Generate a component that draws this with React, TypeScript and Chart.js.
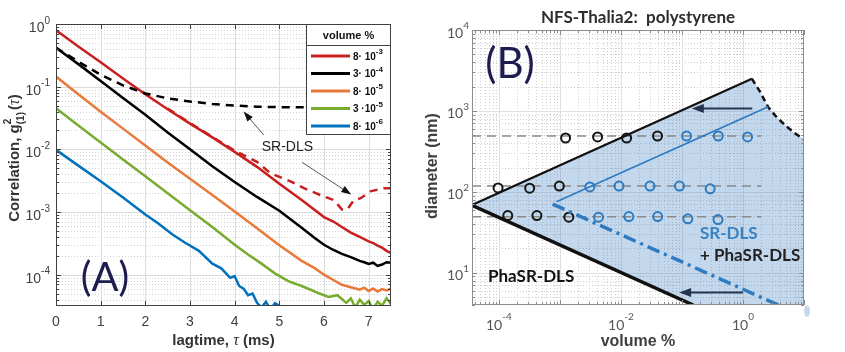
import React, { useEffect, useRef } from "react";
import { Chart, registerables } from "chart.js";
Chart.register(...registerables);

// ---------------- Panel A data (lagtime in ms, correlation) ----------------
const lagRed = [0, 0.5, 1, 1.5, 2, 2.5, 3, 3.5, 4, 4.5, 5, 5.5, 6, 6.2, 6.4, 6.6, 6.8, 7.0, 7.1, 7.2, 7.3, 7.4, 7.5];
const gRed = [0.794, 0.437, 0.245, 0.135, 0.0759, 0.0437, 0.0257, 0.0155, 0.00912, 0.00525, 0.00282, 0.00155, 8.3e-4, 7.1e-4, 5.75e-4, 4.7e-4, 4.0e-4, 3.4e-4, 3.2e-4, 2.9e-4, 2.7e-4, 2.4e-4, 2.2e-4];

const lagRedSR = [2.5, 3, 3.5, 4, 4.5, 4.8, 5.25, 5.55, 5.92, 6.22, 6.4, 6.52, 6.67, 6.82, 7.04, 7.34, 7.5];
const gRedSR = [0.0447, 0.0263, 0.0158, 0.00955, 0.0063, 0.00417, 0.00309, 0.0024, 0.00186, 0.00155, 0.0011, 0.0011, 0.00155, 0.00166, 0.00214, 0.0024, 0.0024];

const lagBlack = [0, 0.5, 1, 1.5, 2, 2.5, 3, 3.5, 4, 4.5, 5, 5.5, 5.8, 6.0, 6.2, 6.4, 6.6, 6.8, 6.9, 7.0, 7.1, 7.2, 7.3, 7.4, 7.5];
const gBlack = [0.417, 0.229, 0.123, 0.066, 0.0355, 0.0186, 0.01, 0.00537, 0.00302, 0.00174, 0.00105, 5.6e-4, 3.8e-4, 3.0e-4, 2.5e-4, 2.14e-4, 1.9e-4, 1.66e-4, 1.58e-4, 1.48e-4, 1.55e-4, 1.38e-4, 1.45e-4, 1.58e-4, 1.55e-4];

const lagBlackSR = [0, 0.5, 1, 1.5, 2, 2.5, 3, 3.5, 4, 4.5, 5, 5.6];
const gBlackSR = [0.417, 0.251, 0.155, 0.105, 0.078, 0.065, 0.058, 0.053, 0.05, 0.048, 0.047, 0.047];

const lagOrange = [0, 0.5, 1, 1.5, 2, 2.5, 3, 3.5, 4, 4.5, 5, 5.5, 5.8, 6.0, 6.2, 6.4, 6.6, 6.8, 6.9, 7.0, 7.1, 7.2, 7.3, 7.4, 7.5];
const gOrange = [0.145, 0.0759, 0.0398, 0.0214, 0.0115, 0.00617, 0.00339, 0.00186, 0.00102, 5.5e-4, 2.95e-4, 1.66e-4, 1.26e-4, 1.0e-4, 8.3e-5, 6.9e-5, 6.3e-5, 5.75e-5, 6.2e-5, 5.5e-5, 6.0e-5, 5.4e-5, 5.9e-5, 5.6e-5, 6.0e-5];

const lagGreen = [0, 0.5, 1, 1.5, 2, 2.5, 3, 3.5, 4, 4.3, 4.6, 4.9, 5.2, 5.5, 5.7, 5.9, 6.1, 6.3, 6.5, 6.6, 6.7, 6.8, 6.9, 7.0, 7.1, 7.2, 7.3, 7.4, 7.5];
const gGreen = [0.0452, 0.024, 0.0129, 0.0069, 0.00372, 0.002, 0.00107, 5.75e-4, 3.0e-4, 2.1e-4, 1.5e-4, 1.05e-4, 7.9e-5, 6.6e-5, 5.75e-5, 5.0e-5, 4.4e-5, 4.7e-5, 3.55e-5, 4.2e-5, 3.0e-5, 4.0e-5, 3.3e-5, 3.8e-5, 2.8e-5, 3.7e-5, 3.2e-5, 4.2e-5, 3.4e-5];

const lagBlue = [0, 0.5, 1, 1.5, 2, 2.3, 2.6, 2.9, 3.2, 3.5, 3.7, 3.9, 4.0, 4.1, 4.2, 4.3, 4.4, 4.5, 4.6, 4.7, 4.8, 4.9, 5.0, 5.1];
const gBlue = [0.0098, 0.0055, 0.0031, 0.0017, 9.1e-4, 6.5e-4, 4.4e-4, 3.2e-4, 2.4e-4, 1.5e-4, 1.26e-4, 8.9e-5, 9.5e-5, 6.6e-5, 6.0e-5, 4.7e-5, 5.0e-5, 3.55e-5, 3.0e-5, 3.7e-5, 2.75e-5, 3.5e-5, 3.2e-5, 2.5e-5];

const legendLabels = ["8· 10^-3", "3· 10^-4", "8· 10^-5", "3 ·10^-5", "8· 10^-6"];
const seriesColors = ["#c9201f", "#000000", "#e8793a", "#77ac30", "#0072bd"];
const lagTicks = [0, 1, 2, 3, 4, 5, 6, 7];
const corrExps = [0, -1, -2, -3, -4];

// ---------------- Panel B data (volume %, diameter nm) ----------------
const volUpper = [3.63e-5, 1.4];
const diamUpper = [68.7, 2500];
const volLower = [3.63e-5, 0.153];
const diamLower = [68, 4];
const volSR = [8.8e-4, 2.6];
const diamSR = [75.5, 1127];
const volSRLow = [7.6e-4, 3.8];
const diamSRLow = [70.6, 4];
const volEdge = [1.4, 1.9, 2.6, 3.6, 5.2, 7.1, 10];
const diamEdge = [2500, 1730, 1110, 830, 640, 530, 445];
const volRegion = [3.63e-5, 1.4, 1.9, 2.6, 3.6, 5.2, 7.1, 10, 10, 0.153, 3.63e-5];
const diamRegion = [68.7, 2500, 1730, 1110, 830, 640, 530, 445, 4, 4, 68.7];
const refDiam = [490, 118, 49.2];
const refVol = [3.63e-5, 2.0];
const blackVol = [1.24e-3, 4.15e-3, 1.24e-2, 3.98e-2, 9.7e-5, 3.2e-4, 9.8e-4, 1.4e-4, 4.2e-4, 1.4e-3];
const blackDiam = [463, 477, 463, 490, 112, 111, 118, 51, 51, 48.6];
const blueVol = [0.119, 0.394, 1.19, 3.1e-3, 9.3e-3, 3.0e-2, 9.1e-2, 0.29, 4.3e-3, 1.35e-2, 4.0e-2, 0.125, 0.39];
const blueDiam = [490, 490, 477, 115, 118, 118, 118, 109, 48.6, 49.5, 49.5, 46.5, 45.5];
const volExps = [-4, -2, 0];
const diamExps = [1, 2, 3, 4];

const SANS = '"Liberation Sans", Arial, sans-serif';
const SERIF = '"Liberation Serif", "DejaVu Serif", serif';
const CAL = 'Lato, "Open Sans", sans-serif';

const xy = (xs: number[], ys: number[]) => xs.map((x, i) => ({ x, y: ys[i] }));

function powLabel(ctx: CanvasRenderingContext2D, exp: string, x: number, y: number, align: string, baseFont: string, supFont: string, color: string, rise: number) {
  ctx.font = baseFont;
  const wb = ctx.measureText("10").width;
  ctx.font = supFont;
  const we = ctx.measureText(exp).width;
  const total = wb + we;
  const x0 = align === "right" ? x - total : align === "center" ? x - total / 2 : x;
  ctx.fillStyle = color;
  ctx.textAlign = "left";
  ctx.textBaseline = "middle";
  ctx.font = baseFont;
  ctx.fillText("10", x0, y);
  ctx.font = supFont;
  ctx.fillText(exp, x0 + wb, y - rise);
}

function arrow(ctx: CanvasRenderingContext2D, x1: number, y1: number, x2: number, y2: number, lineColor: string, headColor: string, lw: number, hl: number, hw: number) {
  const a = Math.atan2(y2 - y1, x2 - x1);
  const c = Math.cos(a), s = Math.sin(a);
  ctx.setLineDash([]);
  ctx.strokeStyle = lineColor;
  ctx.lineWidth = lw;
  ctx.beginPath();
  ctx.moveTo(x1, y1);
  ctx.lineTo(x2 - c * hl * 0.8, y2 - s * hl * 0.8);
  ctx.stroke();
  ctx.fillStyle = headColor;
  ctx.beginPath();
  ctx.moveTo(x2, y2);
  ctx.lineTo(x2 - hl * c + (hw / 2) * s, y2 - hl * s - (hw / 2) * c);
  ctx.lineTo(x2 - hl * c - (hw / 2) * s, y2 - hl * s + (hw / 2) * c);
  ctx.closePath();
  ctx.fill();
}

function hLine(ctx: CanvasRenderingContext2D, x1: number, x2: number, y: number) {
  const yy = Math.round(y) + 0.5;
  ctx.beginPath(); ctx.moveTo(x1, yy); ctx.lineTo(x2, yy); ctx.stroke();
}
function vLine(ctx: CanvasRenderingContext2D, x: number, y1: number, y2: number) {
  const xx = Math.round(x) + 0.5;
  ctx.beginPath(); ctx.moveTo(xx, y1); ctx.lineTo(xx, y2); ctx.stroke();
}

// annotations for panel A (data coordinates)
const srArrowsA = [
  { from: [4.65, 0.017], to: [4.2, 0.04] },
  { from: [5.51, 0.0062], to: [6.61, 0.0019] },
];
const srTextA = { t: 5.18, g: 0.011 };

const pluginA = {
  id: "decorA",
  beforeDatasetsDraw(chart: any) {
    const { ctx, chartArea: ca, scales } = chart;
    const x = scales.x, y = scales.y;
    ctx.save();
    ctx.lineWidth = 1;
    ctx.strokeStyle = "#d2d2d2";
    ctx.setLineDash([1, 2]);
    for (let d = -5; d <= 0; d++) {
      for (let m = 2; m <= 9; m++) {
        const v = m * Math.pow(10, d);
        if (v <= y.min || v >= y.max) continue;
        hLine(ctx, ca.left, ca.right, y.getPixelForValue(v));
      }
    }
    ctx.setLineDash([]);
    ctx.strokeStyle = "#dcdcdc";
    lagTicks.forEach((t) => { if (t > 0) vLine(ctx, x.getPixelForValue(t), ca.top, ca.bottom); });
    corrExps.forEach((e) => { if (e < 0) hLine(ctx, ca.left, ca.right, y.getPixelForValue(Math.pow(10, e))); });
    ctx.restore();
  },
  afterDraw(chart: any) {
    const { ctx, chartArea: ca, scales } = chart;
    const x = scales.x, y = scales.y;
    ctx.save();
    ctx.setLineDash([]);
    ctx.strokeStyle = "#404040";
    ctx.lineWidth = 1;
    ctx.strokeRect(Math.round(ca.left) + 0.5, Math.round(ca.top) + 0.5, Math.round(ca.right - ca.left) - 1, Math.round(ca.bottom - ca.top) - 1);
    // ticks
    lagTicks.forEach((t) => {
      const px = x.getPixelForValue(t);
      vLine(ctx, px, ca.bottom - 5, ca.bottom);
      vLine(ctx, px, ca.top, ca.top + 5);
    });
    for (let d = -5; d <= 0; d++) {
      for (let m = 1; m <= 9; m++) {
        const v = m * Math.pow(10, d);
        if (v < y.min || v > y.max) continue;
        const py = y.getPixelForValue(v);
        const L = m === 1 ? 5 : 3;
        hLine(ctx, ca.left, ca.left + L, py);
        hLine(ctx, ca.right - L, ca.right, py);
      }
    }
    // tick labels
    ctx.fillStyle = "#404040";
    ctx.font = `14px ${SANS}`;
    ctx.textAlign = "center";
    ctx.textBaseline = "middle";
    lagTicks.forEach((t) => ctx.fillText(String(t), x.getPixelForValue(t), 322));
    corrExps.forEach((e) => {
      const py = y.getPixelForValue(Math.pow(10, e));
      powLabel(ctx, String(e), ca.left - 6, py + 4, "right", `14px ${SANS}`, `10px ${SANS}`, "#404040", 7);
    });
    // x title
    {
      const f1 = `bold 15px ${SANS}`, fi = `italic 16px ${SERIF}`;
      const parts: [string, string][] = [["lagtime, ", f1], ["τ", fi], [" (ms)", f1]];
      let tot = 0;
      parts.forEach(([s, f]) => { ctx.font = f; tot += ctx.measureText(s).width; });
      let cx = (ca.left + ca.right) / 2 - tot / 2;
      ctx.textAlign = "left";
      ctx.fillStyle = "#333333";
      parts.forEach(([s, f]) => { ctx.font = f; ctx.fillText(s, cx, 341); cx += ctx.measureText(s).width; });
    }
    // y title
    {
      ctx.save();
      ctx.translate(14, 158);
      ctx.rotate(-Math.PI / 2);
      const f1 = `bold 15px ${SANS}`, fs = `bold 10px ${SANS}`, fi = `italic 16px ${SERIF}`;
      ctx.font = f1; const w1 = ctx.measureText("Correlation, g").width;
      ctx.font = fs; const ws = Math.max(ctx.measureText("2").width, ctx.measureText("(1)").width);
      ctx.font = f1; const wp = ctx.measureText("(").width;
      ctx.font = fi; const wt = ctx.measureText("τ").width;
      const tot = w1 + ws + 2 + wp * 2 + wt;
      let cx = -tot / 2;
      ctx.fillStyle = "#333333";
      ctx.textAlign = "left";
      ctx.textBaseline = "alphabetic";
      ctx.font = f1; ctx.fillText("Correlation, g", cx, 5); cx += w1;
      ctx.font = fs; ctx.fillText("2", cx, -3); ctx.fillText("(1)", cx, 10); cx += ws + 2;
      ctx.font = f1; ctx.fillText("(", cx, 5); cx += wp;
      ctx.font = fi; ctx.fillText("τ", cx, 5); cx += wt;
      ctx.font = f1; ctx.fillText(")", cx, 5);
      ctx.restore();
    }
    // (A)
    ctx.fillStyle = "#1d1c4e";
    ctx.font = `40px ${CAL}`;
    ctx.textAlign = "center";
    ctx.textBaseline = "middle";
    ctx.fillText("(A)", 105, 278);
    // SR-DLS annotation
    ctx.fillStyle = "#222222";
    ctx.font = `14px ${SANS}`;
    ctx.fillText("SR-DLS", x.getPixelForValue(srTextA.t), y.getPixelForValue(srTextA.g));
    srArrowsA.forEach((a) => {
      arrow(ctx, x.getPixelForValue(a.from[0]), y.getPixelForValue(a.from[1]), x.getPixelForValue(a.to[0]), y.getPixelForValue(a.to[1]), "#555555", "#111111", 1, 10, 7);
    });
    // legend
    {
      const lw = 85, lh = 111;
      const lx = Math.round(ca.right) - lw, ly = Math.round(ca.top);
      ctx.fillStyle = "#ffffff";
      ctx.fillRect(lx, ly, lw, lh);
      ctx.strokeStyle = "#404040";
      ctx.lineWidth = 1;
      ctx.strokeRect(lx + 0.5, ly + 0.5, lw - 1, lh - 1);
      hLine(ctx, lx, lx + lw, ly + 21);
      ctx.fillStyle = "#111111";
      ctx.font = `bold 11px ${SANS}`;
      ctx.textAlign = "center";
      ctx.textBaseline = "middle";
      ctx.fillText("volume %", lx + 42.5, ly + 12);
      legendLabels.forEach((lab, i) => {
        const ey = ly + 32 + i * 17.5;
        ctx.strokeStyle = seriesColors[i];
        ctx.lineWidth = 3;
        ctx.beginPath(); ctx.moveTo(lx + 5, ey); ctx.lineTo(lx + 44, ey); ctx.stroke();
        const [mant, ex] = lab.split("^");
        ctx.fillStyle = "#111111";
        ctx.textAlign = "left";
        ctx.font = `bold 10px ${SANS}`;
        ctx.fillText(mant, lx + 47, ey + 1);
        const wm = ctx.measureText(mant).width;
        ctx.font = `bold 8px ${SANS}`;
        ctx.fillText(ex, lx + 47 + wm, ey - 4);
      });
    }
    ctx.restore();
  },
};

// annotations for panel B (data coordinates)
const arrowsB = [
  { from: [1.42, 1070], to: [0.145, 1070] },
  { from: [1.0, 5.7], to: [0.09, 5.7] },
];

const pluginB = {
  id: "decorB",
  beforeDatasetsDraw(chart: any) {
    const { ctx, chartArea: ca, scales } = chart;
    const x = scales.x, y = scales.y;
    ctx.save();
    ctx.lineWidth = 1;
    ctx.strokeStyle = "#cfcfcf";
    ctx.setLineDash([1, 2]);
    for (let d = -5; d <= 1; d++) {
      for (let m = 2; m <= 9; m++) {
        const v = m * Math.pow(10, d);
        if (v > x.min && v < x.max) vLine(ctx, x.getPixelForValue(v), ca.top, ca.bottom);
      }
    }
    for (let d = 0; d <= 4; d++) {
      for (let m = 2; m <= 9; m++) {
        const v = m * Math.pow(10, d);
        if (v > y.min && v < y.max) hLine(ctx, ca.left, ca.right, y.getPixelForValue(v));
      }
    }
    ctx.setLineDash([]);
    ctx.strokeStyle = "#e0e0e0";
    for (let d = -4; d <= 0; d++) vLine(ctx, x.getPixelForValue(Math.pow(10, d)), ca.top, ca.bottom);
    for (let d = 1; d <= 3; d++) hLine(ctx, ca.left, ca.right, y.getPixelForValue(Math.pow(10, d)));
    ctx.restore();
  },
  afterDraw(chart: any) {
    const { ctx, chartArea: ca, scales } = chart;
    const x = scales.x, y = scales.y;
    ctx.save();
    ctx.setLineDash([]);
    ctx.strokeStyle = "#8c8c8c";
    ctx.lineWidth = 1;
    ctx.strokeRect(Math.round(ca.left) + 0.5, Math.round(ca.top) + 0.5, Math.round(ca.right - ca.left) - 1, Math.round(ca.bottom - ca.top) - 1);
    for (let d = -5; d <= 1; d++) {
      for (let m = 1; m <= 9; m++) {
        const v = m * Math.pow(10, d);
        if (v < x.min || v > x.max) continue;
        const L = m === 1 ? 5 : 3;
        const px = x.getPixelForValue(v);
        vLine(ctx, px, ca.bottom - L, ca.bottom);
        vLine(ctx, px, ca.top, ca.top + L);
      }
    }
    for (let d = 0; d <= 4; d++) {
      for (let m = 1; m <= 9; m++) {
        const v = m * Math.pow(10, d);
        if (v < y.min || v > y.max) continue;
        const L = m === 1 ? 5 : 3;
        const py = y.getPixelForValue(v);
        hLine(ctx, ca.left, ca.left + L, py);
        hLine(ctx, ca.right - L, ca.right, py);
      }
    }
    // tick labels
    volExps.forEach((e) => powLabel(ctx, String(e), x.getPixelForValue(Math.pow(10, e)), 325, "center", `14px ${CAL}`, `10px ${CAL}`, "#555555", 8));
    diamExps.forEach((e) => powLabel(ctx, String(e), ca.left - 3, y.getPixelForValue(Math.pow(10, e)) + 3, "right", `14px ${CAL}`, `10px ${CAL}`, "#555555", 7));
    // axis titles
    ctx.fillStyle = "#404040";
    ctx.font = `bold 16px ${SANS}`;
    ctx.textAlign = "center";
    ctx.textBaseline = "middle";
    ctx.fillText("volume %", (ca.left + ca.right) / 2, 342);
    ctx.save();
    ctx.translate(13, 166);
    ctx.rotate(-Math.PI / 2);
    ctx.fillText("diameter (nm)", 0, 0);
    ctx.restore();
    // title
    ctx.fillStyle = "#2e2e2e";
    ctx.font = `bold 17px ${CAL}`;
    ctx.fillText("NFS-Thalia2:  polystyrene", (ca.left + ca.right) / 2, 18);
    // (B)
    ctx.fillStyle = "#1d1c4e";
    ctx.font = `42px ${CAL}`;
    ctx.fillText("(B)", 90, 64);
    // region labels
    ctx.textAlign = "left";
    ctx.font = `bold 17px ${CAL}`;
    ctx.fillStyle = "#3b82c4";
    ctx.fillText("SR-DLS", 280, 234);
    ctx.fillStyle = "#222222";
    ctx.fillText("+ PhaSR-DLS", 280, 256);
    ctx.fillStyle = "#111111";
    ctx.fillText("PhaSR-DLS", 68, 277);
    // arrows
    arrowsB.forEach((a) => {
      arrow(ctx, x.getPixelForValue(a.from[0]), y.getPixelForValue(a.from[1]), x.getPixelForValue(a.to[0]), y.getPixelForValue(a.to[1]), "#26344e", "#26344e", 2, 12, 9);
    });
    // small stray mark below the axes corner
    ctx.fillStyle = "#c8d7ec";
    ctx.beginPath();
    ctx.ellipse(387, 311, 3, 6, 0, 0, Math.PI * 2);
    ctx.fill();
    ctx.restore();
  },
};

function lineDs(label: string, data: any[], color: string, width: number, dash: number[] = []) {
  return { label, data, borderColor: color, backgroundColor: color, borderWidth: width, borderDash: dash, pointRadius: 0, fill: false, tension: 0 };
}

export default function App() {
  const refA = useRef<HTMLCanvasElement>(null);
  const refB = useRef<HTMLCanvasElement>(null);

  useEffect(() => {
    const chartA = new Chart(refA.current as HTMLCanvasElement, {
      type: "line",
      data: {
        datasets: [
          lineDs("SR-DLS " + legendLabels[1], xy(lagBlackSR, gBlackSR), "#000000", 2.5, [8, 6]),
          lineDs("SR-DLS " + legendLabels[0], xy(lagRedSR, gRedSR), seriesColors[0], 2.5, [8, 6]),
          lineDs(legendLabels[0], xy(lagRed, gRed), seriesColors[0], 2.5),
          lineDs(legendLabels[1], xy(lagBlack, gBlack), seriesColors[1], 2.5),
          lineDs(legendLabels[2], xy(lagOrange, gOrange), seriesColors[2], 2.5),
          lineDs(legendLabels[3], xy(lagGreen, gGreen), seriesColors[3], 2.5),
          lineDs(legendLabels[4], xy(lagBlue, gBlue), seriesColors[4], 2.5),
        ] as any,
      },
      options: {
        responsive: false,
        animation: false,
        devicePixelRatio: 1,
        events: [],
        layout: { padding: { left: 0, right: 29, top: 24, bottom: 0 } },
        plugins: { legend: { display: false }, tooltip: { enabled: false }, title: { display: false } },
        scales: {
          x: {
            type: "linear", min: 0, max: 7.5,
            ticks: { display: false }, grid: { display: false }, border: { display: false },
            afterFit: (s: any) => { s.height = 46; },
          },
          y: {
            type: "logarithmic", min: Math.pow(10, -4.5), max: 1,
            ticks: { display: false }, grid: { display: false }, border: { display: false },
            afterFit: (s: any) => { s.width = 56; },
          },
        },
      } as any,
      plugins: [pluginA],
    });

    const chartB = new Chart(refB.current as HTMLCanvasElement, {
      type: "line",
      data: {
        datasets: [
          { ...lineDs("PhaSR-DLS upper", xy(volUpper, diamUpper), "#111111", 2.2) },
          { ...lineDs("PhaSR-DLS lower", xy(volLower, diamLower), "#111111", 3.5) },
          { ...lineDs("SR-DLS upper", xy(volSR, diamSR), "#2f7bbf", 1.8) },
          { ...lineDs("SR-DLS lower", xy(volSRLow, diamSRLow), "#2f7bbf", 3.5, [13, 5, 3, 5]) },
          { ...lineDs("edge", xy(volEdge, diamEdge), "#111111", 2.5, [6, 4]) },
          { label: "black circles", data: xy(blackVol, blackDiam), showLine: false, pointRadius: 4.5, pointBorderWidth: 2, pointBorderColor: "#151515", pointBackgroundColor: "rgba(0,0,0,0)", borderColor: "#151515", backgroundColor: "rgba(0,0,0,0)" },
          { label: "blue circles", data: xy(blueVol, blueDiam), showLine: false, pointRadius: 4.5, pointBorderWidth: 2, pointBorderColor: "#2f7bbf", pointBackgroundColor: "rgba(0,0,0,0)", borderColor: "#2f7bbf", backgroundColor: "rgba(0,0,0,0)" },
          ...refDiam.map((d) => lineDs("ref " + d, xy(refVol, refVol.map(() => d)), "#8a8a8a", 1.5, [9, 6])),
          { label: "region", data: xy(volRegion, diamRegion), borderWidth: 0, borderColor: "rgba(0,0,0,0)", backgroundColor: "rgba(60,125,195,0.30)", fill: "shape", pointRadius: 0, tension: 0 },
        ] as any,
      },
      options: {
        responsive: false,
        animation: false,
        devicePixelRatio: 1,
        events: [],
        layout: { padding: { left: 0, right: 41, top: 30, bottom: 0 } },
        plugins: { legend: { display: false }, tooltip: { enabled: false }, title: { display: false } },
        scales: {
          x: {
            type: "logarithmic", min: Math.pow(10, -4.44), max: 10,
            ticks: { display: false }, grid: { display: false }, border: { display: false },
            afterFit: (s: any) => { s.height = 47; },
          },
          y: {
            type: "logarithmic", min: 4, max: 10000,
            ticks: { display: false }, grid: { display: false }, border: { display: false },
            afterFit: (s: any) => { s.width = 52; },
          },
        },
      } as any,
      plugins: [pluginB],
    });

    return () => {
      chartA.destroy();
      chartB.destroy();
    };
  }, []);

  return (
    <div style={{ position: "absolute", left: 0, top: 0, width: 845, height: 352, background: "#ffffff" }}>
      <canvas ref={refA} width={420} height={352} style={{ position: "absolute", left: 0, top: 0, width: 420, height: 352 }} />
      <canvas ref={refB} width={425} height={352} style={{ position: "absolute", left: 420, top: 0, width: 425, height: 352 }} />
    </div>
  );
}
